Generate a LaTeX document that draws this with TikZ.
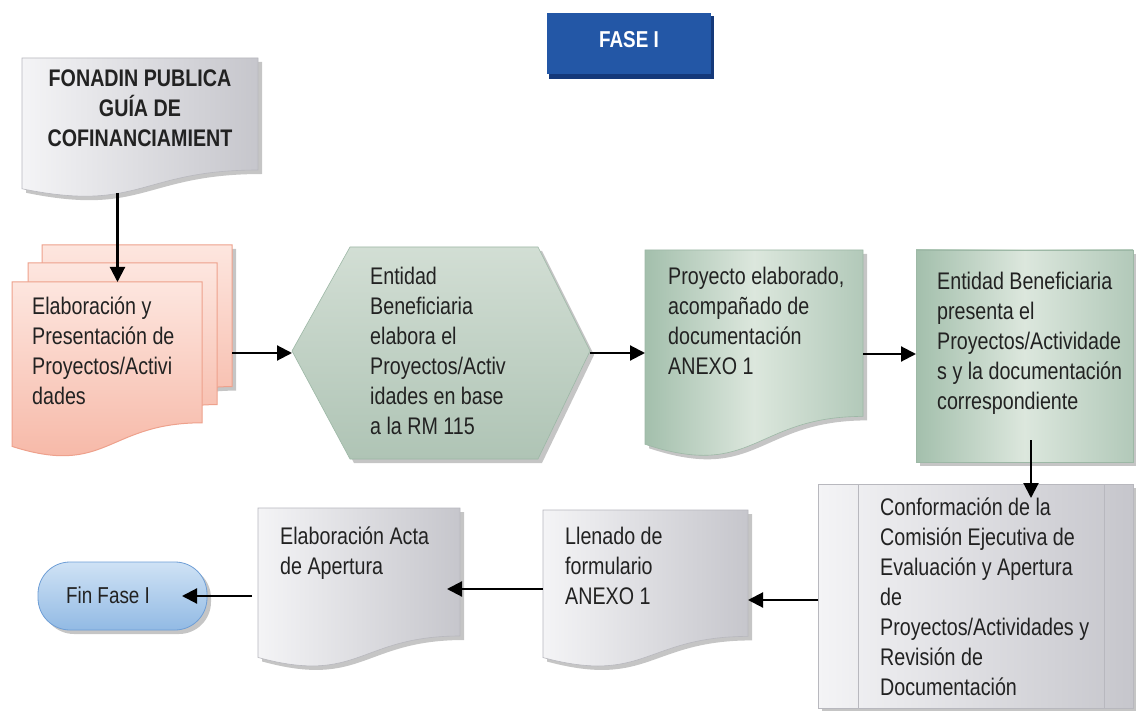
\documentclass[tikz,border=0pt]{standalone}
\usepackage{fontspec}
\setmainfont{Liberation Sans}[FakeStretch=0.82]
\usetikzlibrary{arrows.meta,fit}
\definecolor{txt}{HTML}{222222}
\definecolor{pinkA}{HTML}{FDE6DF}
\definecolor{pinkB}{HTML}{F6B4A2}
\definecolor{pinkE}{HTML}{EEA18C}
\definecolor{grnA}{HTML}{A3BFAC}
\definecolor{grnB}{HTML}{DCE7DD}
\definecolor{grnC}{HTML}{B2C9B9}
\definecolor{grnE}{HTML}{9DB8A6}
\definecolor{hexA}{HTML}{D2DED4}
\definecolor{hexB}{HTML}{AFC4B5}
\definecolor{gryA}{HTML}{F4F4F6}
\definecolor{gryB}{HTML}{C6C6CC}
\definecolor{gryE}{HTML}{B8B8BE}
\definecolor{bluA}{HTML}{2357A6}
\definecolor{bluD}{HTML}{15397A}
\definecolor{finA}{HTML}{CFE2F5}
\definecolor{finB}{HTML}{92BAE4}
\definecolor{finE}{HTML}{6E9ED6}
\newcommand{\docshp}[5]{%
  \path[#5] (#1,#2) -- (#3,#2) -- (#3,{#2+0.8*(#4-#2)})
   .. controls ({(#1+#3)/2},{#2+0.8*(#4-#2)}) and ({(#1+#3)/2},{#2+1.1075*(#4-#2)})
   .. (#1,{#2+0.934*(#4-#2)}) -- cycle;}
\begin{document}
\begin{tikzpicture}[x=1pt,y=-1pt,
  lbl/.style={text=txt, inner sep=0pt, anchor=north west, align=left,
              font=\fontsize{24}{30}\selectfont},
  hold/.style={inner sep=0pt, outer sep=0pt},
  arr/.style={-{Triangle[length=15pt,width=15pt]}, line width=2.1pt, black},
  shd/.style={fill=black!50, opacity=0.45, xshift=4pt, yshift=-4pt},
  graydoc/.style={left color=gryA, right color=gryB, draw=gryE, line width=0.6pt},
  greendoc/.style={left color=grnA, right color=grnC, middle color=grnB, draw=grnE, line width=0.6pt},
  pinkdoc/.style={top color=pinkA, bottom color=pinkB, draw=pinkE, line width=1pt},
]
\useasboundingbox (0,0) rectangle (1136,711);
\fill[white] (0,0) rectangle (1136,711);

% FASE I
\fill[bluD] (549,16) rectangle (714,79);
\fill[bluA] (547,13) rectangle (711,74);
\node[hold, fit={(547,13) (711,76)}] (fase) {};
\node[text=white, font=\bfseries\fontsize{23}{28}\selectfont] (faset) at (629,40) {FASE I};

% FONADIN
\docshp{22}{58}{258}{198}{shd}
\docshp{22}{58}{258}{198}{graydoc}
\node[hold, fit={(22,58) (258,193)}] (fon) {};
\node[lbl, anchor=north, align=center, font=\bfseries\fontsize{24}{30}\selectfont] (font) at (140,70)
  {FONADIN PUBLICA\\GUÍA DE\\COFINANCIAMIENT};

% pink stack
\docshp{42}{245}{232}{422}{shd}
\docshp{42}{245}{232}{422}{pinkdoc}
\node[hold, fit={(42,245) (232,422)}] (pinkb) {};
\docshp{28}{263}{217}{440}{pinkdoc}
\node[hold, fit={(28,263) (207,440)}] (pinkm) {};
\docshp{12}{282}{202}{458}{pinkdoc}
\node[hold, fit={(12,282) (202,458)}] (pinkf) {};
\node[lbl] (pinkt) at (32,297) {Elaboración y\\Presentación de\\Proyectos/Activi\\dades};

% hexagon
\fill[shd] (292,351) -- (350,247) -- (538,247) -- (590,351) -- (538,459) -- (350,459) -- cycle;
\path[top color=hexA, bottom color=hexB, draw=grnE, line width=0.6pt]
  (292,351) -- (350,247) -- (538,247) -- (590,351) -- (538,459) -- (350,459) -- cycle;
\node[hold, fit={(292,247) (590,459)}] (hex) {};
\node[lbl] (hext) at (370,267) {Entidad\\Beneficiaria\\elabora el\\Proyectos/Activ\\idades en base\\a la RM 115};

% green document
\docshp{645}{250}{863}{458}{shd}
\docshp{645}{250}{863}{458}{greendoc}
\node[hold, fit={(645,250) (863,458)}] (gdoc) {};
\node[lbl] (gdoct) at (668,267) {Proyecto elaborado,\\acompañado de\\documentación\\ANEXO 1};

% green rectangle
\fill[shd] (916,250) rectangle (1133,462);
\path[left color=grnA, right color=grnC, middle color=grnB, draw=grnE, line width=0.6pt]
  (916,250) rectangle (1133,462);
\node[hold, fit={(916,250) (1133,462)}] (grect) {};
\node[lbl] (grectt) at (937,272) {Entidad Beneficiaria\\presenta el\\Proyectos/Actividade\\s y la documentación\\correspondiente};

% Conformacion (predefined process)
\fill[shd] (818,484) rectangle (1133,708);
\path[graydoc] (818,484) rectangle (1133,708);
\draw[gryE, line width=0.6pt] (858,484) -- (858,708) (1104,484) -- (1104,708);
\node[hold, fit={(818,484) (1133,716)}] (conf) {};
\node[lbl] (conft) at (880,498) {Conformación de la\\Comisión Ejecutiva de\\Evaluación y Apertura\\de\\Proyectos/Actividades y\\Revisión de\\Documentación};

% Llenado
\docshp{543}{510}{748}{668}{shd}
\docshp{543}{510}{748}{668}{graydoc}
\node[hold, fit={(543,510) (748,668)}] (llen) {};
\node[lbl] (llent) at (565,527) {Llenado de\\formulario\\ANEXO 1};

% Acta
\docshp{258}{508}{460}{668}{shd}
\docshp{258}{508}{460}{668}{graydoc}
\node[hold, fit={(258,508) (460,668)}] (acta) {};
\node[lbl] (actat) at (280,527) {Elaboración Acta\\de Apertura};

% Fin Fase I
\fill[shd, rounded corners=32pt] (38,562) rectangle (207,630);
\node[hold, fit={(38,562) (207,630)}, rounded corners=32pt, top color=finA, bottom color=finB,
      draw=finE, line width=0.8pt] (fin) {};
\node[text=txt, font=\fontsize{23}{28}\selectfont] (fint) at (108,595) {Fin Fase I};

% connectors
\draw[arr] (fon.south -| pinkm.center) -- (pinkf.north -| pinkm.center);
\draw[arr] (pinkb.east |- hex.west) -- (hex.west);
\draw[arr] (hex.east) -- (hex.east -| gdoc.west);
\draw[arr] (gdoc.east) -- (gdoc.east -| grect.west);
\coordinate (c5) at ([xshift=6.5pt]grect.south |- conf.north);
\draw[arr] ([xshift=6.5pt,yshift=22pt]grect.south) -- ([yshift=-14pt]c5);
\draw[arr] (conf.west) -- (conf.west -| llen.east);
\draw[arr] (llen.west) -- ([xshift=-13pt]llen.west -| acta.east);
\draw[arr] ([xshift=-6pt]acta.west |- fin.east) -- ([xshift=-25pt]fin.east);
\end{tikzpicture}
\end{document}
